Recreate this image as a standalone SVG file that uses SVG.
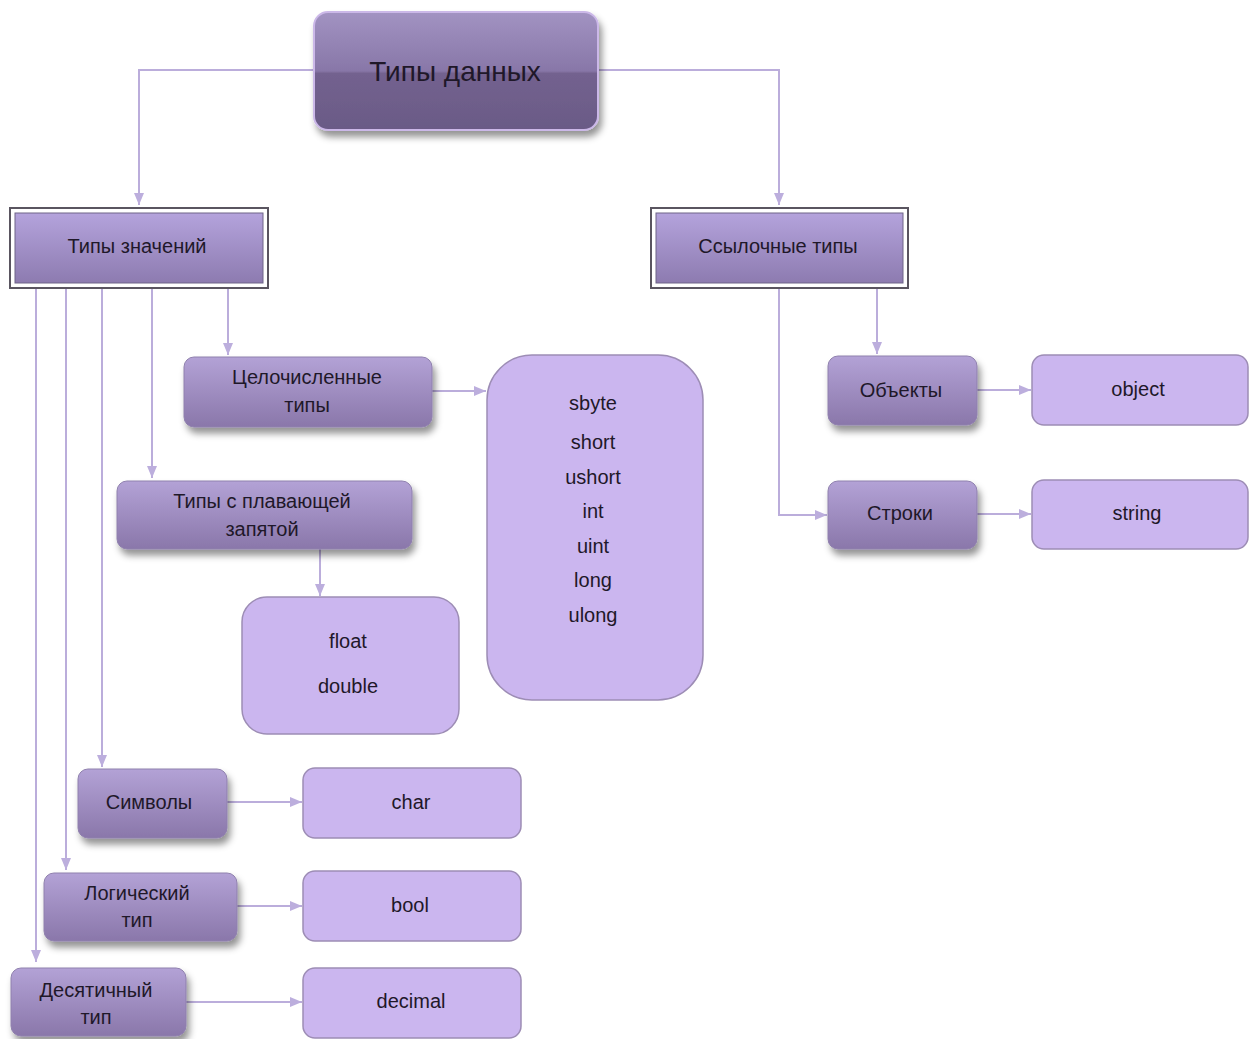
<svg xmlns="http://www.w3.org/2000/svg" width="1249" height="1039" viewBox="0 0 1249 1039">
<defs>
<linearGradient id="gTop" x1="0" y1="0" x2="0" y2="1">
<stop offset="0" stop-color="#a293c2"/>
<stop offset="0.5" stop-color="#8877a8"/>
<stop offset="0.52" stop-color="#73628f"/>
<stop offset="1" stop-color="#6a5a86"/>
</linearGradient>
<linearGradient id="gDark" x1="0" y1="0" x2="0" y2="1">
<stop offset="0" stop-color="#b3a2d6"/>
<stop offset="1" stop-color="#8a77aa"/>
</linearGradient>
<linearGradient id="gFrame" x1="0" y1="0" x2="0" y2="1">
<stop offset="0" stop-color="#b4a3dc"/>
<stop offset="1" stop-color="#8d7bb0"/>
</linearGradient>
<filter id="sh" x="-20%" y="-20%" width="150%" height="170%">
<feDropShadow dx="3" dy="6" stdDeviation="3.5" flood-color="#000" flood-opacity="0.42"/>
</filter>
<marker id="arr" viewBox="0 0 12 10" refX="12" refY="5" markerWidth="12" markerHeight="10" markerUnits="userSpaceOnUse" orient="auto">
<path d="M0,0 L12,5 L0,10 Z" fill="#bcaedd"/>
</marker>
<style>
.t{font-family:"Liberation Sans",Arial,sans-serif;fill:#1f1829;text-anchor:middle;dominant-baseline:central}
.s{font-size:20px}
.c{fill:none;stroke:#bbaddb;stroke-width:2}
.dark{fill:url(#gDark);stroke:#8f80ad;stroke-width:1;filter:url(#sh)}
.light{fill:#cbb6ef;stroke:#9d8db5;stroke-width:1.5}
.frameOut{fill:#fff;stroke:#5a5560;stroke-width:2}
.frameIn{fill:url(#gFrame);stroke:#6e6488;stroke-width:1}
</style>
</defs>
<rect width="1249" height="1039" fill="#ffffff"/>

<g id="connectors">
<path class="c" d="M314,70 H139 V205" marker-end="url(#arr)"/>
<path class="c" d="M598,70 H779 V205" marker-end="url(#arr)"/>
<path class="c" d="M36,288 V962" marker-end="url(#arr)"/>
<path class="c" d="M66,288 V870" marker-end="url(#arr)"/>
<path class="c" d="M102,288 V767" marker-end="url(#arr)"/>
<path class="c" d="M152,288 V478" marker-end="url(#arr)"/>
<path class="c" d="M228,288 V355" marker-end="url(#arr)"/>
<path class="c" d="M432,391 H486" marker-end="url(#arr)"/>
<path class="c" d="M320,549 V596" marker-end="url(#arr)"/>
<path class="c" d="M227,802 H302" marker-end="url(#arr)"/>
<path class="c" d="M237,906 H302" marker-end="url(#arr)"/>
<path class="c" d="M186,1002 H302" marker-end="url(#arr)"/>
<path class="c" d="M877,288 V354" marker-end="url(#arr)"/>
<path class="c" d="M779,288 V515 H827" marker-end="url(#arr)"/>
<path class="c" d="M977,390 H1031" marker-end="url(#arr)"/>
<path class="c" d="M977,514 H1031" marker-end="url(#arr)"/>
</g>

<g id="n-root">
<rect x="314" y="12" width="284" height="118" rx="14" fill="url(#gTop)" stroke="#cbb8e8" stroke-width="2" filter="url(#sh)"/>
<text class="t" x="455" y="71" font-size="28">Типы данных</text>
</g>

<g id="n-value">
<rect class="frameOut" x="10" y="208" width="258" height="80"/>
<rect class="frameIn" x="15" y="213" width="248" height="70"/>
<text class="t s" x="137" y="246">Типы значений</text>
</g>

<g id="n-ref">
<rect class="frameOut" x="651" y="208" width="257" height="80"/>
<rect class="frameIn" x="656" y="213" width="247" height="70"/>
<text class="t s" x="778" y="246">Ссылочные типы</text>
</g>

<g id="n-int">
<rect class="dark" x="184" y="357" width="248" height="70" rx="10"/>
<text class="t s" x="307" y="377">Целочисленные</text>
<text class="t s" x="307" y="405">типы</text>
</g>

<g id="n-intlist">
<rect class="light" x="487" y="355" width="216" height="345" rx="45"/>
<text class="t s" x="593" y="403">sbyte</text>
<text class="t s" x="593" y="442">short</text>
<text class="t s" x="593" y="477">ushort</text>
<text class="t s" x="593" y="511">int</text>
<text class="t s" x="593" y="546">uint</text>
<text class="t s" x="593" y="580">long</text>
<text class="t s" x="593" y="615">ulong</text>
</g>

<g id="n-float">
<rect class="dark" x="117" y="481" width="295" height="68" rx="10"/>
<text class="t s" x="262" y="501">Типы с плавающей</text>
<text class="t s" x="262" y="529">запятой</text>
</g>

<g id="n-floatlist">
<rect class="light" x="242" y="597" width="217" height="137" rx="25"/>
<text class="t s" x="348" y="641">float</text>
<text class="t s" x="348" y="686">double</text>
</g>

<g id="n-char">
<rect class="dark" x="78" y="769" width="149" height="69" rx="10"/>
<text class="t s" x="149" y="802">Символы</text>
</g>
<g id="n-charval">
<rect class="light" x="303" y="768" width="218" height="70" rx="12"/>
<text class="t s" x="411" y="802">char</text>
</g>

<g id="n-bool">
<rect class="dark" x="44" y="873" width="193" height="68" rx="10"/>
<text class="t s" x="137" y="893">Логический</text>
<text class="t s" x="137" y="920">тип</text>
</g>
<g id="n-boolval">
<rect class="light" x="303" y="871" width="218" height="70" rx="12"/>
<text class="t s" x="410" y="905">bool</text>
</g>

<g id="n-dec">
<rect class="dark" x="11" y="968" width="175" height="68" rx="10"/>
<text class="t s" x="96" y="990">Десятичный</text>
<text class="t s" x="96" y="1017">тип</text>
</g>
<g id="n-decval">
<rect class="light" x="303" y="968" width="218" height="70" rx="12"/>
<text class="t s" x="411" y="1001">decimal</text>
</g>

<g id="n-obj">
<rect class="dark" x="828" y="356" width="149" height="69" rx="10"/>
<text class="t s" x="901" y="390">Объекты</text>
</g>
<g id="n-objval">
<rect class="light" x="1032" y="355" width="216" height="70" rx="12"/>
<text class="t s" x="1138" y="389">object</text>
</g>

<g id="n-str">
<rect class="dark" x="828" y="481" width="149" height="68" rx="10"/>
<text class="t s" x="900" y="513">Строки</text>
</g>
<g id="n-strval">
<rect class="light" x="1032" y="480" width="216" height="69" rx="12"/>
<text class="t s" x="1137" y="513">string</text>
</g>
</svg>
